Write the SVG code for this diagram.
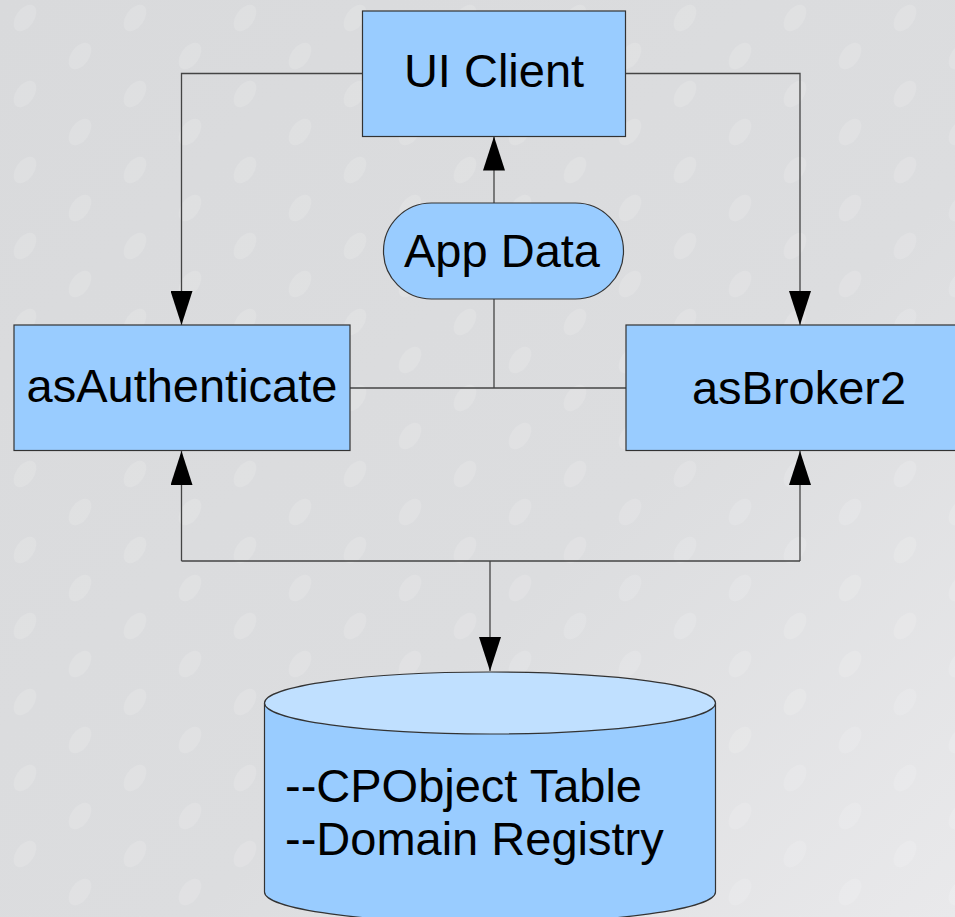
<svg xmlns="http://www.w3.org/2000/svg" width="955" height="917" viewBox="0 0 955 917">
  <style>
    .box { fill: #99ccff; stroke: #333333; stroke-width: 1.2; }
    .lbl { font-family: "Liberation Sans", Arial, sans-serif; font-size: 47px; fill: #000000; }
    .mid { text-anchor: middle; }
    .conn { fill: none; stroke: #444444; stroke-width: 1.3; }
  </style>
  <defs>
    <linearGradient id="bg" x1="0" y1="0" x2="1" y2="1">
      <stop offset="0" stop-color="#d9dadc"/>
      <stop offset="0.6" stop-color="#dcdddf"/>
      <stop offset="1" stop-color="#e9e9eb"/>
    </linearGradient>
    <pattern id="dots" x="0" y="0" width="110" height="76" patternUnits="userSpaceOnUse">
      <ellipse cx="25" cy="18" rx="15" ry="9" transform="rotate(-55 25 18)" fill="#ffffff" fill-opacity="0.13"/>
      <ellipse cx="80" cy="56" rx="15" ry="9" transform="rotate(-55 80 56)" fill="#ffffff" fill-opacity="0.13"/>
    </pattern>
    <marker id="arr" viewBox="0 0 34 22" refX="34" refY="11" markerWidth="34" markerHeight="22" markerUnits="userSpaceOnUse" orient="auto">
      <path d="M0,0 L34,11 L0,22 z" fill="#000000"/>
    </marker>
  </defs>

  <rect x="0" y="0" width="955" height="917" fill="url(#bg)"/>
  <rect x="0" y="0" width="955" height="917" fill="url(#dots)"/>

  <g id="connectors">
    <path class="conn" d="M362.5,73.5 H181.5 V325" marker-end="url(#arr)"/>
    <path class="conn" d="M625.5,73.5 H800 V325" marker-end="url(#arr)"/>
    <path class="conn" d="M494,203 V136.5" marker-end="url(#arr)"/>
    <path class="conn" d="M350,388 H626"/>
    <path class="conn" d="M494,299 V388"/>
    <path class="conn" d="M181.5,561 H800"/>
    <path class="conn" d="M490,561 V671" marker-end="url(#arr)"/>
    <path class="conn" d="M181.5,561 V451" marker-end="url(#arr)"/>
    <path class="conn" d="M800,561 V451" marker-end="url(#arr)"/>
  </g>

  <g id="ui-client">
    <rect class="box" x="362.5" y="11" width="263" height="125.5"/>
    <text class="lbl mid" x="494" y="87">UI Client</text>
  </g>

  <g id="app-data">
    <rect class="box" x="383.5" y="203" width="240" height="96" rx="48" ry="48"/>
    <text class="lbl mid" x="502" y="267">App Data</text>
  </g>

  <g id="as-authenticate">
    <rect class="box" x="14" y="325" width="336" height="125.5"/>
    <text class="lbl mid" x="182" y="402">asAuthenticate</text>
  </g>

  <g id="as-broker2">
    <rect class="box" x="626" y="325" width="348" height="125.5"/>
    <text class="lbl mid" x="799" y="404">asBroker2</text>
  </g>

  <g id="database">
    <path class="box" d="M264.5,703 V892 A225.5,31 0 0 0 715.5,892 V703"/>
    <ellipse cx="490" cy="703" rx="225.5" ry="31" fill="#c0e0ff" stroke="#333333" stroke-width="1.2"/>
    <text class="lbl" x="285" y="802">--CPObject Table</text>
    <text class="lbl" x="285" y="855">--Domain Registry</text>
  </g>
</svg>
